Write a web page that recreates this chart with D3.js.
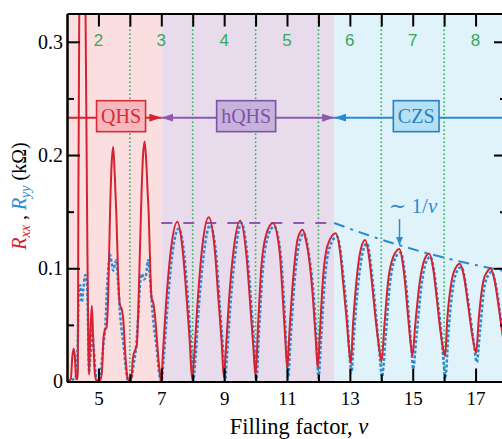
<!DOCTYPE html>
<html>
<head>
<meta charset="utf-8">
<script src="https://cdn.jsdelivr.net/npm/d3@7"></script>
<style>
  body { margin: 0; background: #fff; }
  svg { display: block; font-family: "Liberation Serif", "DejaVu Serif", serif; }
</style>
</head>
<body>
<div id="container"></div>
<script>
/* DATA */
// phases: name and filling-factor range
const phaseNames = ["QHS", "hQHS", "CZS"];
const phaseFrom = [4, 7, 12.5];
const phaseTo = [7, 12.5, 18];

const bottomTicks = [5, 7, 9, 11, 13, 15, 17];
const topTickLabels = ["2", "3", "4", "5", "6", "7", "8"];
const evenNu = [6, 8, 10, 12, 14, 16];
const yTicks = [0, 0.1, 0.2, 0.3];
const yMinorTicks = [0.05, 0.15, 0.25];

// R_xx (solid red), [nu, kOhm]
const rxx = [
  [4.00,0.000],[4.12,0.002],[4.17,0.022],[4.21,0.029],[4.25,0.022],[4.29,0.002],[4.33,0.002],
  [4.345,0.010],[4.36,0.146],[4.39,0.325],[4.45,0.450],[4.52,0.420],[4.59,0.325],[4.64,0.146],[4.68,0.030],[4.70,0.006],
  [4.74,0.040],[4.79,0.067],[4.83,0.040],[4.89,0.006],[4.95,0.000],[5.05,0.001],[5.11,0.008],[5.16,0.038],[5.20,0.045],[5.26,0.048],
  [5.31,0.075],[5.37,0.150],[5.42,0.192],[5.47,0.207],[5.52,0.182],[5.57,0.148],[5.62,0.100],[5.68,0.068],[5.74,0.064],[5.79,0.055],
  [5.86,0.022],[5.92,0.004],[5.98,0.000],
  [6.05,0.004],[6.10,0.021],[6.17,0.028],[6.22,0.032],[6.27,0.065],[6.32,0.115],[6.37,0.165],[6.42,0.200],[6.47,0.212],[6.52,0.195],
  [6.57,0.165],[6.60,0.148],[6.65,0.100],[6.69,0.074],[6.74,0.070],[6.80,0.058],[6.88,0.030],[6.95,0.008],[7.00,0.000],
  [7.05,0.024],[7.15,0.068],[7.30,0.115],[7.51,0.141],[7.68,0.116],[7.80,0.076],[7.90,0.038],[7.98,0.002],
  [8.05,0.024],[8.15,0.068],[8.30,0.118],[8.51,0.145],[8.70,0.117],[8.82,0.072],[8.92,0.035],[8.99,0.004],
  [9.05,0.026],[9.15,0.070],[9.30,0.116],[9.51,0.142],[9.72,0.108],[9.84,0.064],[9.93,0.030],[10.00,0.005],
  [10.08,0.050],[10.18,0.100],[10.34,0.130],[10.55,0.140],[10.76,0.116],[10.87,0.072],[10.95,0.035],[11.01,0.012],
  [11.08,0.045],[11.19,0.089],[11.35,0.127],[11.50,0.134],[11.60,0.125],[11.67,0.115],[11.83,0.072],[11.92,0.035],[11.98,0.012],
  [12.05,0.045],[12.14,0.089],[12.30,0.121],[12.55,0.131],[12.70,0.112],[12.78,0.089],[12.89,0.057],[12.97,0.030],[13.03,0.016],
  [13.10,0.050],[13.21,0.089],[13.35,0.117],[13.49,0.125],[13.60,0.112],[13.70,0.088],[13.82,0.055],[13.93,0.030],[14.01,0.018],
  [14.10,0.050],[14.22,0.089],[14.38,0.110],[14.58,0.117],[14.68,0.105],[14.75,0.089],[14.86,0.055],[14.94,0.032],[14.99,0.0225],
  [15.08,0.050],[15.23,0.089],[15.38,0.108],[15.52,0.113],[15.65,0.100],[15.77,0.072],[15.88,0.045],[15.97,0.028],[16.03,0.0225],
  [16.10,0.055],[16.24,0.089],[16.38,0.101],[16.50,0.104],[16.63,0.093],[16.77,0.066],[16.90,0.040],[17.02,0.0255],
  [17.10,0.055],[17.25,0.089],[17.37,0.097],[17.47,0.100],[17.60,0.090],[17.70,0.073],[17.78,0.057],[17.90,0.035],[18.00,0.025]
];

// R_yy (dotted blue), [nu, kOhm]
const ryy = [
  [4.00,0.000],[4.20,0.002],[4.30,0.006],[4.34,0.030],[4.37,0.078],[4.42,0.085],[4.47,0.070],[4.52,0.082],[4.58,0.094],
  [4.63,0.090],[4.67,0.050],[4.70,0.008],[4.74,0.020],[4.79,0.045],[4.85,0.030],[4.92,0.005],[5.00,0.000],
  [5.08,0.010],[5.15,0.030],[5.22,0.050],[5.28,0.085],[5.33,0.105],[5.37,0.112],[5.42,0.105],[5.47,0.098],[5.52,0.103],
  [5.57,0.107],[5.62,0.090],[5.68,0.063],[5.74,0.045],[5.80,0.032],[5.87,0.012],[5.95,0.000],
  [6.05,0.003],[6.12,0.015],[6.21,0.034],[6.27,0.060],[6.33,0.088],[6.38,0.095],[6.45,0.090],[6.52,0.095],[6.58,0.107],
  [6.63,0.095],[6.69,0.072],[6.76,0.050],[6.85,0.030],[6.93,0.008],[7.00,0.000],
  [7.08,0.022],[7.19,0.064],[7.34,0.110],[7.55,0.135],[7.73,0.112],[7.85,0.072],[7.94,0.035],[8.01,0.000],
  [8.09,0.022],[8.19,0.064],[8.35,0.112],[8.55,0.138],[8.74,0.114],[8.86,0.068],[8.96,0.030],[9.02,0.000],
  [9.09,0.022],[9.19,0.064],[9.35,0.112],[9.55,0.140],[9.75,0.108],[9.88,0.062],[9.97,0.025],[10.02,0.000],
  [10.11,0.045],[10.22,0.095],[10.38,0.127],[10.59,0.137],[10.80,0.112],[10.91,0.068],[10.98,0.030],[11.03,0.003],
  [11.12,0.040],[11.23,0.085],[11.39,0.122],[11.54,0.131],[11.71,0.110],[11.87,0.068],[11.95,0.030],[12.00,0.003],
  [12.09,0.040],[12.19,0.085],[12.35,0.118],[12.59,0.128],[12.82,0.086],[12.93,0.052],[13.00,0.020],[13.05,0.008],
  [13.14,0.045],[13.26,0.085],[13.40,0.113],[13.54,0.122],[13.74,0.085],[13.86,0.050],[13.96,0.020],[14.02,0.004],
  [14.14,0.040],[14.27,0.085],[14.43,0.108],[14.61,0.114],[14.79,0.085],[14.90,0.050],[14.97,0.025],[15.01,0.011],
  [15.12,0.040],[15.28,0.085],[15.42,0.105],[15.56,0.110],[15.81,0.068],[15.92,0.040],[15.99,0.015],[16.04,0.004],
  [16.14,0.045],[16.29,0.085],[16.42,0.098],[16.54,0.101],[16.81,0.062],[16.94,0.035],[17.04,0.017],
  [17.14,0.045],[17.29,0.085],[17.41,0.094],[17.51,0.097],[17.64,0.086],[17.81,0.054],[17.92,0.032],[18.00,0.022]
];

// guide lines
const flatGuide = [[7, 0.14], [12.5, 0.14]];
const invGuide = [[12.5,0.140],[13.5,0.130],[14.5,0.121],[15.5,0.113],[16.5,0.106],[17.5,0.100],[18,0.097]];

/* CONSTANTS */
const width = 502;
const height = 439;
const margin = {left: 67, right: 507, top: 13.5, bottom: 381.5};
const arrowY = 0.233;

const red = "#d52230", blue = "#2b8bd2", purple = "#8a5aad", green = "#35a85c";
const phaseBg = ["#fbdfe0", "#e8dcec", "#e0f2fa"];
const boxFill = ["#f7b8bd", "#c8b1db", "#b5e0f5"];
const boxStroke = ["#d52a38", "#7a54a6", "#2a80bd"];

/* SCALES */
const xScale = d3.scaleLinear().domain([4, 18]).range([margin.left, margin.right]);
const yScale = d3.scaleLinear().domain([0, 0.325]).range([margin.bottom, margin.top]);

const svg = d3.select("#container").append("svg")
  .attr("width", width)
  .attr("height", height);

const defs = svg.append("defs");
defs.append("clipPath").attr("id", "plot")
  .append("rect")
  .attr("x", margin.left).attr("y", margin.top)
  .attr("width", margin.right - margin.left).attr("height", margin.bottom - margin.top);

function marker(id, color, len, half) {
  defs.append("marker")
    .attr("id", id)
    .attr("markerUnits", "userSpaceOnUse")
    .attr("markerWidth", len).attr("markerHeight", half * 2)
    .attr("refX", len).attr("refY", half)
    .attr("orient", "auto")
    .append("path")
    .attr("d", `M0,0L${len},${half}L0,${half * 2}Z`)
    .attr("fill", color);
}
marker("aRed", red, 12, 4);
marker("aPurple", purple, 12, 4);
marker("aBlue", blue, 12, 4);
marker("aBlueSmall", blue, 8, 3.5);

// BACKGROUND PHASES
svg.selectAll(".phase")
  .data(phaseNames)
  .join("rect")
  .attr("class", "phase")
  .attr("x", (d, i) => xScale(phaseFrom[i]))
  .attr("y", margin.top)
  .attr("width", (d, i) => xScale(phaseTo[i]) - xScale(phaseFrom[i]))
  .attr("height", margin.bottom - margin.top)
  .attr("fill", (d, i) => phaseBg[i]);

// GREEN DOTTED LINES at even nu
svg.selectAll(".even")
  .data(evenNu)
  .join("line")
  .attr("class", "even")
  .attr("x1", d => xScale(d)).attr("x2", d => xScale(d))
  .attr("y1", margin.top).attr("y2", margin.bottom)
  .attr("stroke", green)
  .attr("stroke-width", 1.6)
  .attr("stroke-dasharray", "1.6,2.4");

const plot = svg.append("g").attr("clip-path", "url(#plot)");

const lineGen = d3.line()
  .x(d => xScale(d[0]))
  .y(d => yScale(d[1]))
  .curve(d3.curveMonotoneX);

// GUIDES
plot.append("path")
  .attr("d", lineGen(flatGuide))
  .attr("fill", "none")
  .attr("stroke", purple)
  .attr("stroke-width", 2)
  .attr("stroke-dasharray", "11,11");

plot.append("path")
  .attr("d", lineGen(invGuide))
  .attr("fill", "none")
  .attr("stroke", blue)
  .attr("stroke-width", 2)
  .attr("stroke-dasharray", "11,6,3,6");

// CURVES
plot.append("path")
  .attr("d", lineGen(ryy))
  .attr("fill", "none")
  .attr("stroke", blue)
  .attr("stroke-width", 2.5)
  .attr("stroke-dasharray", "3,2");

plot.append("path")
  .attr("d", lineGen(rxx))
  .attr("fill", "none")
  .attr("stroke", red)
  .attr("stroke-width", 2)
  .attr("stroke-linejoin", "round");

// PHASE ARROWS
const ay = yScale(arrowY);
const boxNu = [5.72, 9.70, 15.11];
const arrowSegs = [
  {from: 4, to: 7, color: red, m: "aRed"},
  {from: 9.70, to: 7, color: purple, m: "aPurple"},
  {from: 9.70, to: 12.5, color: purple, m: "aPurple"},
  {from: 15.11, to: 12.5, color: blue, m: "aBlue"},
  {from: 15.11, to: 18, color: blue, m: null}
];
svg.selectAll(".arrow")
  .data(arrowSegs)
  .join("line")
  .attr("class", "arrow")
  .attr("x1", d => xScale(d.from)).attr("x2", d => xScale(d.to))
  .attr("y1", ay).attr("y2", ay)
  .attr("stroke", d => d.color)
  .attr("stroke-width", 2)
  .attr("marker-end", d => d.m ? `url(#${d.m})` : null);

const boxes = svg.selectAll(".box")
  .data(phaseNames)
  .join("g")
  .attr("class", "box")
  .attr("transform", (d, i) => `translate(${xScale(boxNu[i])},${ay - 1.5})`);

boxes.append("text")
  .attr("text-anchor", "middle")
  .attr("dy", "0.35em")
  .attr("font-size", 20)
  .attr("fill", (d, i) => boxStroke[i])
  .text(d => d);

boxes.each(function(d, i) {
  const g = d3.select(this);
  const bb = g.select("text").node().getBBox();
  g.insert("rect", "text")
    .attr("x", bb.x - 4.5).attr("width", bb.width + 9)
    .attr("y", -15.5).attr("height", 31)
    .attr("fill", boxFill[i])
    .attr("stroke", boxStroke[i])
    .attr("stroke-width", 1.6);
});

// ~1/nu LABEL
const lab = svg.append("text")
  .attr("x", 413).attr("y", 213)
  .attr("text-anchor", "middle")
  .attr("font-size", 21)
  .attr("fill", blue);
lab.append("tspan").text("∼ 1/");
lab.append("tspan").attr("font-style", "italic").text("ν");

svg.append("line")
  .attr("x1", xScale(14.58)).attr("x2", xScale(14.58))
  .attr("y1", 219).attr("y2", yScale(0.1205))
  .attr("stroke", blue)
  .attr("stroke-width", 1.5)
  .attr("marker-end", "url(#aBlueSmall)");

// AXES
function styleAxis(g) {
  g.select(".domain").attr("stroke-width", 2);
  g.selectAll(".tick line").attr("stroke-width", 2);
  g.selectAll("text").attr("font-family", "Liberation Serif").attr("fill", "#000");
}

const xAxis = d3.axisBottom(xScale).tickValues(bottomTicks).tickSize(-13).tickSizeOuter(0).tickPadding(10);
svg.append("g")
  .attr("transform", `translate(0,${margin.bottom})`)
  .call(xAxis)
  .call(styleAxis)
  .selectAll("text").attr("font-size", 19);

svg.append("g")
  .attr("transform", `translate(0,${margin.bottom})`)
  .call(d3.axisBottom(xScale).tickValues(evenNu).tickSize(-7).tickSizeOuter(0).tickFormat(""))
  .call(styleAxis);

const topAxis = d3.axisTop(xScale).tickValues(bottomTicks.concat(evenNu)).tickSize(-13).tickSizeOuter(0).tickFormat("");
svg.append("g")
  .attr("transform", `translate(0,${margin.top})`)
  .call(topAxis)
  .call(styleAxis);

svg.selectAll(".toplabel")
  .data(bottomTicks)
  .join("text")
  .attr("class", "toplabel")
  .attr("x", d => xScale(d))
  .attr("y", 45.5)
  .attr("text-anchor", "middle")
  .attr("font-family", "Liberation Sans")
  .attr("font-size", 17)
  .attr("fill", green)
  .text((d, i) => topTickLabels[i]);

const yAxis = d3.axisLeft(yScale).tickValues(yTicks).tickSize(-13).tickSizeOuter(0).tickPadding(4)
  .tickFormat(d => d === 0 ? "0" : d3.format(".1f")(d));
svg.append("g")
  .attr("transform", `translate(${margin.left},0)`)
  .call(yAxis)
  .call(styleAxis)
  .selectAll("text").attr("font-size", 20);

svg.append("g")
  .attr("transform", `translate(${margin.left},0)`)
  .call(d3.axisLeft(yScale).tickValues(yMinorTicks).tickSize(-7).tickSizeOuter(0).tickFormat(""))
  .call(styleAxis);

svg.append("g")
  .attr("transform", `translate(${margin.right},0)`)
  .call(d3.axisRight(yScale).tickValues(yTicks).tickSize(-13).tickSizeOuter(0).tickFormat(""))
  .call(styleAxis);
svg.append("g")
  .attr("transform", `translate(${margin.right},0)`)
  .call(d3.axisRight(yScale).tickValues(yMinorTicks).tickSize(-7).tickSizeOuter(0).tickFormat(""))
  .call(styleAxis);

// AXIS TITLES
const xt = svg.append("text")
  .attr("x", 299).attr("y", 434)
  .attr("text-anchor", "middle")
  .attr("font-size", 22.5);
xt.append("tspan").text("Filling factor, ");
xt.append("tspan").attr("font-style", "italic").text("ν");

const yt = svg.append("text")
  .attr("transform", "translate(26,196) rotate(-90)")
  .attr("text-anchor", "middle")
  .attr("font-size", 20);
yt.append("tspan").attr("fill", red).attr("font-style", "italic").text("R");
yt.append("tspan").attr("fill", red).attr("font-style", "italic").attr("font-size", 14).attr("dy", 4).text("xx");
yt.append("tspan").attr("dy", -4).text(" , ");
yt.append("tspan").attr("fill", blue).attr("font-style", "italic").text("R");
yt.append("tspan").attr("fill", blue).attr("font-style", "italic").attr("font-size", 14).attr("dy", 4).text("yy");
yt.append("tspan").attr("dy", -4).text(" (kΩ)");
</script>
</body>
</html>
